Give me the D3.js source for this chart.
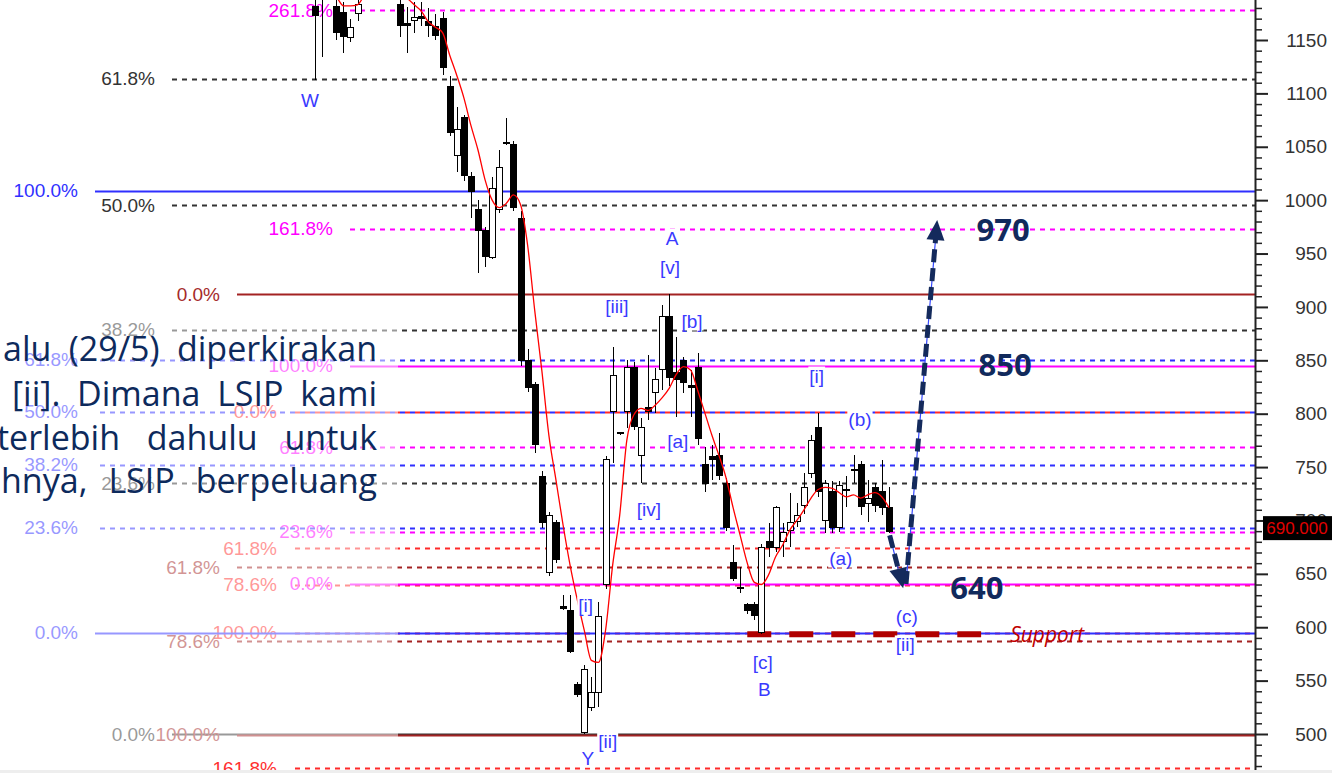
<!DOCTYPE html>
<html>
<head>
<meta charset="utf-8">
<script src="https://cdn.jsdelivr.net/npm/d3@7"></script>
<style>
  html, body { margin: 0; padding: 0; background: #fff; }
  svg { display: block; }
</style>
</head>
<body>
<svg id="chart" width="1332" height="773"></svg>
<script>
// daily candles, oldest first (the first ones run above the frame)
const opens  = [1181,1200,1196,1181,1176,1152,1175,1195,1205,1212, 1208,1200,1183,1165,1168,1172,1167,1163,1170,1106,
                1042,1077,1022,991,972,946,991,1053,1052,983, 850,827,741,651,698,619,616,546,501,525,
                539,640,802,782,802,843,761,806,820,841, 891,839,850,826,843,752,760,761,735,661,
                637,621,621,595,680,675,680,691,699,714, 744,787,700,727,693,728,747,752,716,731, 727,712];
const highs  = [1200,1210,1215,1195,1186,1170,1190,1215,1222,1225, 1215,1210,1195,1181,1186,1186,1180,1174,1176,1116,
                1087,1080,1026,1000,975,1022,1047,1077,1055,990, 861,830,746,708,700,630,630,549,565,553,
                624,760,862,783,850,848,796,855,843,902, 912,872,853,841,857,769,771,782,740,677,
                656,623,624,678,698,714,698,726,716,744, 780,801,738,737,737,742,761,756,738,735, 757,731];
const lows   = [1113,1134,1190,1150,1138,1148,1168,1190,1198,1200, 1195,1189,1153,1138,1157,1163,1153,1150,1117,1060,
                1026,1018,983,932,937,945,988,1052,990,845, 820,763,693,648,660,616,576,535,500,522,
                525,636,754,780,787,785,735,794,801,822, 826,797,819,797,771,727,738,738,690,643,
                632,612,607,594,666,670,666,675,694,706, 740,722,688,688,689,713,735,705,699,708, 705,688];
const closes = [1173,1195,1205,1157,1153,1162,1183,1205,1212,1208, 1200,1192,1164,1164,1171,1170,1164,1154,1124,1063,
                1066,1023,1008,972,947,1011,1031,1054,993,850, 825,771,698,705,663,618,577,537,560,539,
                610,757,836,781,843,788,787,802,832,891, 834,832,829,825,777,735,757,742,693,646,
                636,616,611,675,675,712,689,698,705,731, 775,727,735,693,733,729,748,713,721,714, 712,690];
// red moving average, one value per candle
const maValues = [1195,1194,1192,1190,1182,1182,1183,1192,1196,1198, 1198,1196,1192,1189,1183,1177,1167,1162,1157,1136,
                  1117,1096,1070,1047,1019,1000,993,997,1005,996, 958,897,841,780,738,696,658,626,597,569,
                  567,597,658,705,775,799,805,803,808,815, 824,837,844,841,822,801,780,761,740,712,
                  686,660,642,640,649,666,677,691,700,710, 721,729,731,730,726,722,724,721,724,726, 722,712];

// fibonacci sets
const fibRedLabels     = ["0.0%", "61.8%", "78.6%", "100.0%", "161.8%"];
const fibRedValues     = [801.6, 674, 639.6, 594.6, 468];
const fibMagentaLabels = ["0.0%", "23.6%", "61.8%", "100.0%", "161.8%", "261.8%"];
const fibMagentaValues = [640.5, 689.2, 768.8, 844.7, 973, 1178];
const fibBlackLabels   = ["0.0%", "23.6%", "38.2%", "50.0%", "61.8%"];
const fibBlackValues   = [500, 735, 878.4, 995.4, 1113.5];
const fibDarkLabels    = ["0.0%", "61.8%", "78.6%", "100.0%"];
const fibDarkValues    = [912, 656.4, 587, 499.2];
const fibBlueLabels    = ["0.0%", "23.6%", "38.2%", "50.0%", "61.8%", "100.0%"];
const fibBlueValues    = [594.6, 693, 752, 801.6, 850.3, 1008.6];

// elliott wave marks: [candle index, price]
const waveNames = ["W", "A", "[v]", "[iii]", "[b]", "[i]", "(b)", "[a]", "[iv]", "(a)", "[i]", "(c)", "[ii]", "[c]", "B", "[ii]", "Y"];
const waveSpots = [[-0.7,1093],[50.4,964.5],[50.1,936.5],[42.6,900],[53.2,886.8],[70.8,835.3],[76.9,795],[51.2,773.5],
                   [47.1,710.7],[74.2,664.8],[38.2,619.9],[83.5,610.5],[83.3,583.4],[63.2,566.5],[63.4,542],[41.3,493.4],[38.5,477.5]];

const targetNames = ["970", "850", "640"];
const targetSpots = [[97.1,973],[97.4,846.5],[93.4,637.7]];
const supportLevel = 593.5;
const supportSpan = [61, 94];
const pathDown = [[81.1,686],[83.0,636.5]];
const pathUp   = [[83.4,640.5],[87.8,981.4]];
const lastPrice = 690;

const majorTicks = [500,550,600,650,700,750,800,850,900,950,1000,1050,1100,1150];

const noteLines = [
  ["alu", "(29/5)", "diperkirakan"],
  ["[ii].", "Dimana", "LSIP", "kami"],
  ["terlebih", "dahulu", "untuk"],
  ["hnya,", "LSIP", "berpeluang"]
];

const svg = d3.select("#chart");
const x = d3.scaleLinear().domain([0, 81]).range([315, 889]);
const y = d3.scaleLinear().domain([500, 1150]).range([734, 40]);
const axisX = 1255;

// ---- fib lines ----
const fibSets = [
  {labels: fibRedLabels, values: fibRedValues, line: "#ff2a2a", text: "#ff3030", labelEnd: 277, start: 295, solid: [], offset: 0},
  {labels: fibMagentaLabels, values: fibMagentaValues, line: "#ff00ff", text: "#ff00ff", labelEnd: 333, start: 350, solid: ["0.0%", "100.0%"], offset: 0},
  {labels: fibBlackLabels, values: fibBlackValues, line: "#333333", text: "#333333", labelEnd: 155, start: 172, solid: ["0.0%"], offset: 0},
  {labels: fibDarkLabels, values: fibDarkValues, line: "#a32222", text: "#a52a2a", labelEnd: 220, start: 237, solid: ["0.0%", "100.0%"], offset: 0},
  {labels: fibBlueLabels, values: fibBlueValues, line: "#2f2fff", text: "#3030ff", labelEnd: 78, start: 95, solid: ["0.0%", "100.0%"], offset: 5}
];

const fibG = svg.append("g");
fibSets.forEach(s => {
  const rows = s.values.map((v, k) => ({v, label: s.labels[k]}));
  fibG.append("g").selectAll("line").data(rows).join("line")
    .attr("x1", s.start).attr("x2", axisX)
    .attr("y1", d => Math.round(y(d.v)) + 0.5).attr("y2", d => Math.round(y(d.v)) + 0.5)
    .attr("stroke", s.line)
    .attr("stroke-width", 2)
    .attr("stroke-dasharray", d => s.solid.includes(d.label) ? null : "5,5")
    .attr("stroke-dashoffset", s.offset);
  fibG.append("g").selectAll("text").data(rows).join("text")
    .attr("x", s.labelEnd).attr("y", d => y(d.v))
    .attr("text-anchor", "end").attr("dominant-baseline", "central")
    .style("font", "19px 'Liberation Sans', Arial, sans-serif")
    .attr("fill", s.text)
    .text(d => d.label);
});

// ---- support dashes ----
svg.append("line")
  .attr("x1", x(supportSpan[0])).attr("x2", x(supportSpan[1]))
  .attr("y1", y(supportLevel)).attr("y2", y(supportLevel))
  .attr("stroke", "#b00000").attr("stroke-width", 6).attr("stroke-dasharray", "24,18");

// ---- candles ----
const candles = opens.map((o, i) => ({i, o, h: highs[i], l: lows[i], c: closes[i]}));
const cg = svg.append("g").attr("shape-rendering", "crispEdges");
cg.selectAll("line").data(candles).join("line")
  .attr("x1", d => Math.round(x(d.i)) + 0.5).attr("x2", d => Math.round(x(d.i)) + 0.5)
  .attr("y1", d => y(d.h)).attr("y2", d => y(d.l))
  .attr("stroke", "#000").attr("stroke-width", 1);
cg.selectAll("rect").data(candles).join("rect")
  .attr("x", d => Math.round(x(d.i)) - 2.5)
  .attr("width", 6)
  .attr("y", d => y(Math.max(d.o, d.c)))
  .attr("height", d => Math.max(1, Math.abs(y(d.o) - y(d.c))))
  .attr("fill", d => d.c > d.o ? "#fff" : "#000")
  .attr("stroke", "#000").attr("stroke-width", 1);

// ---- moving average ----
svg.append("path")
  .datum(maValues)
  .attr("fill", "none").attr("stroke", "#ff0000").attr("stroke-width", 1.3)
  .attr("d", d3.line().x((d, i) => x(i)).y(d => y(d)).curve(d3.curveMonotoneX));

// ---- wave labels ----
const wg = svg.append("g");
waveNames.forEach((name, k) => {
  const p = waveSpots[k];
  const t = wg.append("text")
    .attr("x", x(p[0])).attr("y", y(p[1]))
    .attr("text-anchor", "middle").attr("dominant-baseline", "central")
    .style("font", "19px 'Liberation Sans', Arial, sans-serif")
    .attr("fill", "#3a3aff")
    .text(name);
  const b = t.node().getBBox();
  wg.insert("rect", () => t.node())
    .attr("x", b.x - 1).attr("y", b.y + 1).attr("width", b.width + 2).attr("height", b.height - 2)
    .attr("fill", "#fff");
});

// ---- arrows ----
const ag = svg.append("g");
function arrow(p0, p1) {
  const x0 = x(p0[0]), y0 = y(p0[1]), x1 = x(p1[0]), y1 = y(p1[1]);
  const len = Math.hypot(x1 - x0, y1 - y0), ux = (x1 - x0) / len, uy = (y1 - y0) / len;
  const headL = 20, headW = 9;
  const bx = x1 - ux * headL, by = y1 - uy * headL;
  ag.append("line").attr("x1", x0).attr("y1", y0).attr("x2", bx).attr("y2", by)
    .attr("stroke", "#3347ff").attr("stroke-width", 1.2);
  ag.append("line").attr("x1", x0).attr("y1", y0).attr("x2", bx + ux * 4).attr("y2", by + uy * 4)
    .attr("stroke", "#142a5c").attr("stroke-width", 5).attr("stroke-dasharray", "13,6");
  ag.append("path")
    .attr("d", `M${x1},${y1}L${bx - uy * headW},${by + ux * headW}L${bx + uy * headW},${by - ux * headW}Z`)
    .attr("fill", "#142a5c");
}
arrow(pathDown[0], pathDown[1]);
arrow(pathUp[0], pathUp[1]);

// ---- targets ----
svg.append("g").selectAll("text").data(targetNames).join("text")
  .attr("x", (d, k) => x(targetSpots[k][0])).attr("y", (d, k) => y(targetSpots[k][1]))
  .attr("text-anchor", "middle").attr("dominant-baseline", "central")
  .style("font", "bold 31px 'Open Sans', sans-serif")
  .attr("fill", "#112a5c")
  .text(d => d);

svg.append("text")
  .attr("x", x(98.1)).attr("y", y(supportLevel))
  .attr("dominant-baseline", "central")
  .style("font", "italic 21px 'Open Sans', sans-serif")
  .attr("fill", "#c00000")
  .text("Support");

// ---- faded box + note ----
svg.append("rect").attr("x", 0).attr("y", 316).attr("width", 398).attr("height", 446)
  .attr("fill", "#fff").attr("opacity", 0.5);

const noteStart = [3, 12, -3, 1];
const noteBase = [361, 406, 450, 493];
const noteRight = 377;
const ng = svg.append("g");
noteLines.forEach((words, r) => {
  const nodes = words.map(w => ng.append("text")
    .attr("y", noteBase[r])
    .style("font", "34px 'Open Sans', sans-serif")
    .attr("fill", "#0d2a5c")
    .text(w));
  const widths = nodes.map(n => n.node().getComputedTextLength());
  const gap = (noteRight - noteStart[r] - d3.sum(widths)) / (words.length - 1);
  let cx = noteStart[r];
  nodes.forEach((n, k) => { n.attr("x", cx); cx += widths[k] + gap; });
});

// ---- price axis ----
const axG = svg.append("g").attr("transform", `translate(${axisX},0)`);
axG.append("line").attr("x1", 0.5).attr("x2", 0.5).attr("y1", 0).attr("y2", 773)
  .attr("stroke", "#222").attr("stroke-width", 2);
const minor = d3.range(470, 1190, 10).filter(v => v % 50 !== 0);
axG.append("g").call(d3.axisRight(y).tickValues(minor).tickSize(7).tickFormat(""))
  .call(g => g.select(".domain").remove())
  .selectAll("line").attr("stroke", "#222").attr("stroke-width", 1.5);
const major = axG.append("g").call(d3.axisRight(y).tickValues(majorTicks).tickSize(13).tickFormat(d3.format("d")))
  .call(g => g.select(".domain").remove());
major.selectAll("line").attr("stroke", "#222").attr("stroke-width", 2);
major.selectAll("text")
  .attr("x", 72).attr("text-anchor", "end")
  .style("font", "19px 'Liberation Sans', Arial, sans-serif")
  .attr("fill", "#333");

// last price tag
const tagY = y(lastPrice) - 3;
svg.append("rect").attr("x", 1263).attr("y", tagY - 12).attr("width", 69).attr("height", 24).attr("fill", "#000");
svg.append("text").attr("x", 1297).attr("y", tagY)
  .attr("text-anchor", "middle").attr("dominant-baseline", "central")
  .style("font", "17px 'Liberation Sans', Arial, sans-serif")
  .attr("fill", "#e00000")
  .text(d3.format(".3f")(lastPrice));

svg.append("rect").attr("x", 0).attr("y", 770).attr("width", 1332).attr("height", 3).attr("fill", "#eeeeee");
</script>
</body>
</html>
